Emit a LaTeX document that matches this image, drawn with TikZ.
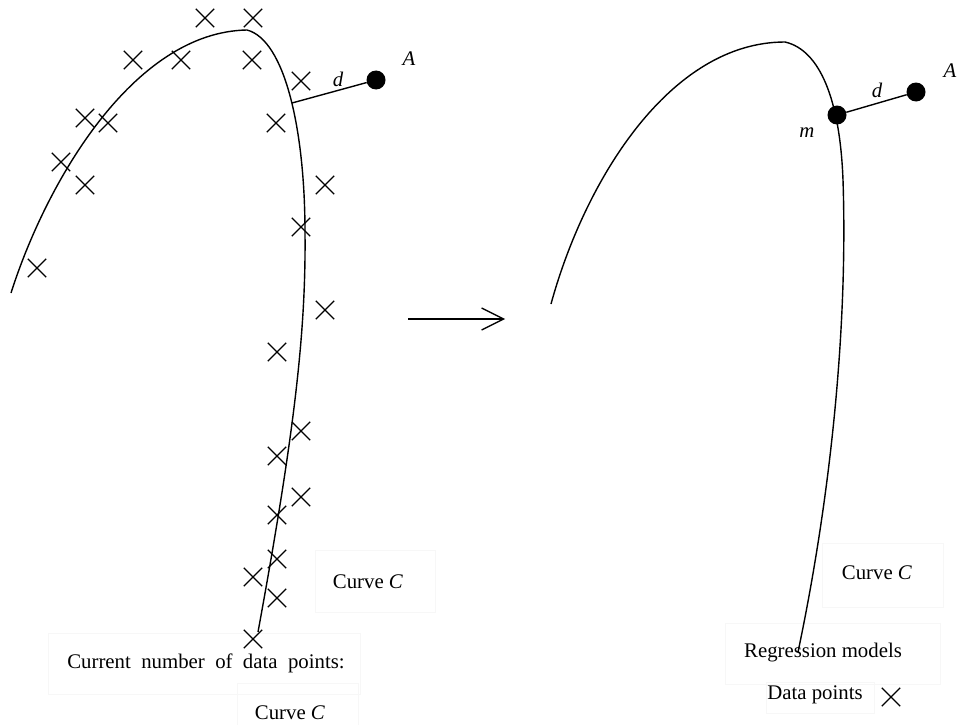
\documentclass[tikz,border=0pt]{standalone}
\usepackage{fontspec}
\setmainfont{Liberation Serif}
\usetikzlibrary{arrows.meta,shapes.misc}
\begin{document}
\begin{tikzpicture}[x=1pt,y=-1pt,
  curve/.style={line width=1.4pt,line join=round},
  xpt/.style={cross out,draw,line width=1.3pt,minimum size=17pt,inner sep=0pt},
  dotpt/.style={circle,fill=black,minimum size=19pt,inner sep=0pt},
  lbl/.style={font=\fontsize{20.8}{24}\selectfont,inner sep=0pt},
  faint/.style={draw=black!3,line width=1pt}]
\useasboundingbox (0,0) rectangle (961,725);
% faint frames
\draw[faint] (315,550) rectangle (435,612);
\draw[faint] (48,633) rectangle (360,694);
\draw[faint] (237,683) rectangle (358,730);
\draw[faint] (822,543) rectangle (943,607);
\draw[faint] (725,623) rectangle (940,684);
\draw[faint] (766,682) rectangle (874,713);
% left curve
\draw[curve] (11,293) .. controls (46,183) and (133,32) .. (247,30);
\draw[curve] (247,30) .. controls (285,40) and (305,130) .. (305,233)
  .. controls (306,330) and (295,430) .. (258,632);
% left point A and distance
\node[dotpt] (A1) at (376,80) {};
\coordinate (p1) at (292,103);
\draw[line width=1.4pt] (p1) -- (A1);
\node[lbl] (d1) at (338,79) {\textit{d}};
\node[lbl] (a1) at (409,59) {\textit{A}};
% data points
\foreach \i/\p in {1/{205,18},2/{253,18},3/{133,60},4/{181,60},5/{252,60},6/{301,81},
  7/{85,118},8/{108,123},9/{276,123},10/{61,162},11/{85,185},12/{325,185},
  13/{301,227},14/{37,268},15/{325,310},16/{277,352},17/{301,431},18/{277,456},
  19/{301,497},20/{277,515},21/{277,559},22/{253,577},23/{277,598},24/{253,639}}
  \node[xpt] (x\i) at (\p) {};
% left texts
\node[lbl] (c1) at (368,582) {Curve \textit{C}};
\node[lbl] (cur) at (206,663) {Current\enspace number\enspace of\enspace data\enspace points:};
\node[lbl] (c2) at (290,713) {Curve \textit{C}};
% arrow
\coordinate (ar1) at (408,319);
\coordinate (ar2) at (505,319);
\draw[line width=1.3pt,-{Straight Barb[length=22pt,width=22pt,line width=1.3pt]}] (ar1) -- (ar2);
% right curve
\draw[curve] (551,304) .. controls (585,180) and (670,42) .. (785,42);
\draw[curve] (785,42) .. controls (820,50) and (840,100) .. (843,180)
  .. controls (848,330) and (830,500) .. (798,652);
\node[dotpt] (m) at (837,115) {};
\node[dotpt] (A2) at (916,92) {};
\draw[line width=1.4pt] (m) -- (A2);
\node[lbl] (d2) at (877,90) {\textit{d}};
\node[lbl] (a2) at (950,71) {\textit{A}};
\node[lbl] (m2) at (807,133) {\textit{m}};
% right texts
\node[lbl] (c3) at (877,573) {Curve \textit{C}};
\node[lbl] (reg) at (823,653) {Regression models};
\node[lbl] (dp) at (815,695) {Data points};
\node[xpt] (xl) at (891,697) {};
\end{tikzpicture}
\end{document}
